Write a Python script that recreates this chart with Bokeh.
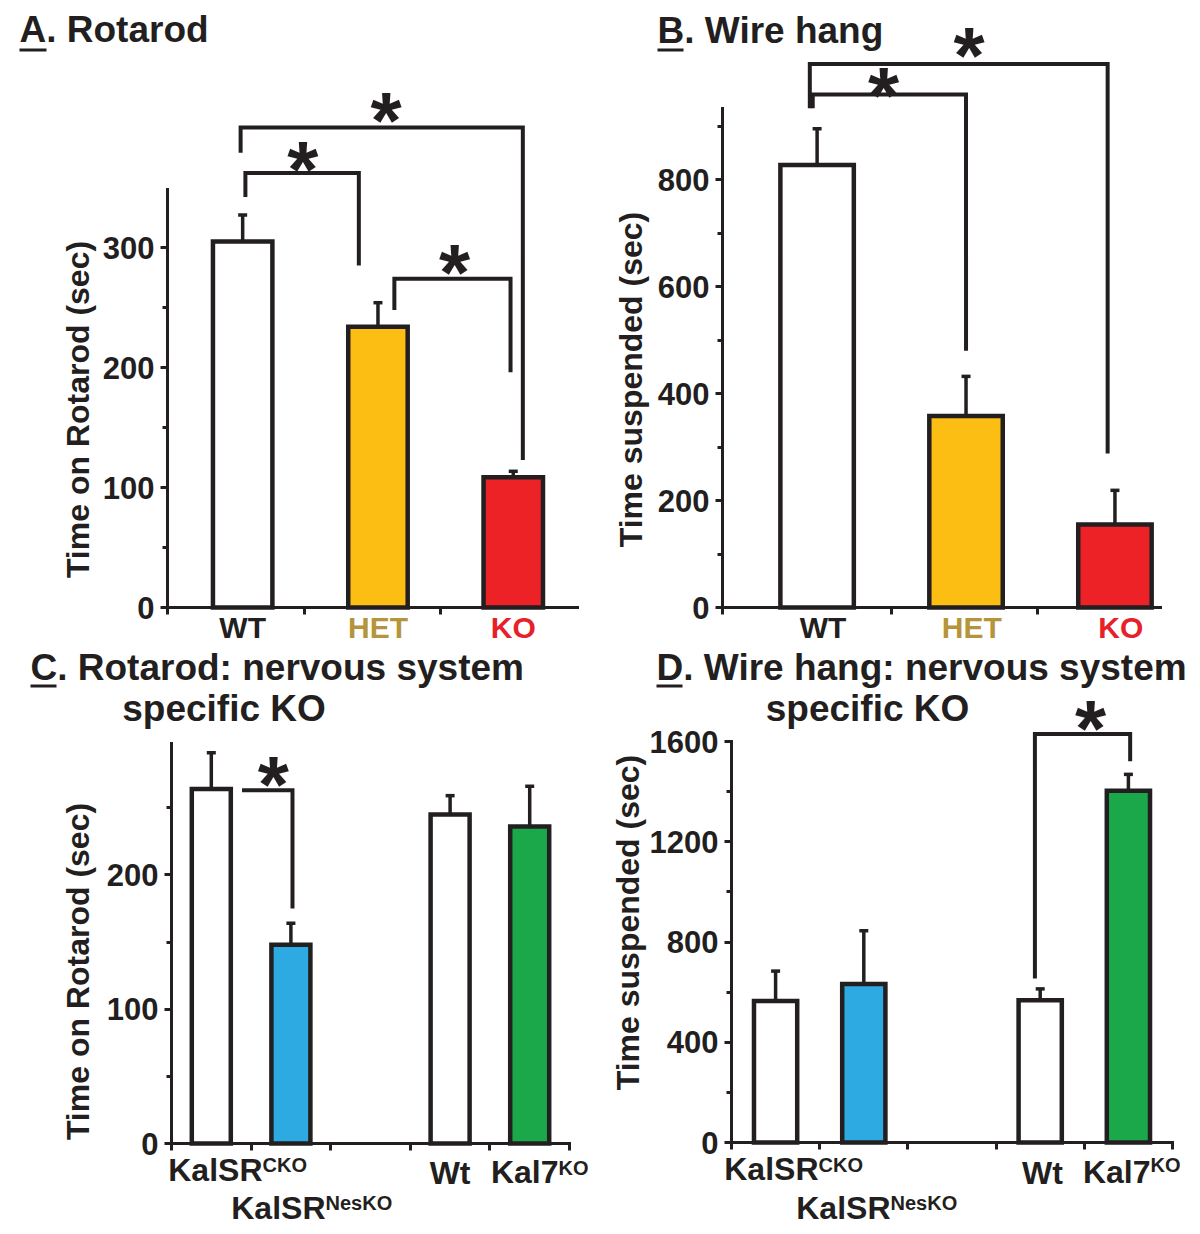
import math
from bokeh.plotting import figure
from bokeh.layouts import row, column
from bokeh.models import (ColumnDataSource, Whisker, TeeHead, Label, BoxAnnotation,
                          Range1d, FixedTicker, SingleIntervalTicker)
from bokeh.embed import file_html
from bokeh.resources import INLINE
from bokeh.core.properties import value

FONT = "Liberation Sans"
INK = "#231F20"

# ---------------- data ----------------
A_groups = ["WT", "HET", "KO"]
A_mean = [305, 234, 108.5]
A_sem = [22, 20, 5]

B_groups = ["WT", "HET", "KO"]
B_mean = [827, 358, 155]
B_sem = [68, 74, 64]

C_groups = ["KalSR CKO", "KalSR NesKO", "Wt", "Kal7 KO"]
C_mean = [264, 148, 245, 236]
C_sem = [27, 16, 14, 30]

D_groups = ["KalSR CKO", "KalSR NesKO", "Wt", "Kal7 KO"]
D_mean = [565, 632, 568, 1404]
D_sem = [119, 213, 45, 65]

# significance brackets (x path, y path) and star centres, data units
A_brackets = [([0.57, 0.57, 1.40, 1.40], [342, 362, 362, 285]),
              ([0.535, 0.535, 2.60, 2.60], [379, 400, 400, 123]),
              ([1.66, 1.66, 2.51, 2.51], [248, 274, 274, 196])]
A_stars = ([0.99, 1.60, 2.10], [375, 416, 289])
B_brackets = [([0.46, 0.46, 1.51, 1.51], [933, 959, 959, 480]),
              ([0.44, 0.44, 2.48, 2.48], [933, 1016, 1016, 288])]
B_stars = ([0.945, 1.53], [979, 1054])
C_brackets = [([0.886, 1.52, 1.52], [263, 263, 175])]
C_stars = ([1.28], [276])
D_brackets = [([3.44, 3.44, 4.52, 4.52], [654, 1630, 1630, 1521])]
D_stars = ([4.07], [1701])

# ---------------- styles ----------------
AB_fill = ["white", "#FDBE14", "#EC2227"]
AB_label_color = [INK, "#B5953B", "#E8202A"]
CD_fill = ["white", "#2DAAE1", "white", "#1AA84B"]
STAR_SIZE = 80
BASE_SHIFT = 0.38   # rendered baseline sits this many em below the anchor
ROW_SPLIT = 646     # page row where the lower panels begin


def make_panel(canvas, px0, x0, sx, py0, sy, xb, yb, interval, xticks):
    """canvas: (left, top, width, height) on the page; the frame fills the canvas
    and the axes sit at fixed data locations inside it."""
    cl, ct, W, H = canvas
    X = lambda px: x0 + (px - px0) / sx
    Y = lambda py: (py0 - py) / sy
    p = figure(width=W, height=H,
               x_range=Range1d(X(cl), X(cl + W)), y_range=Range1d(Y(ct + H), Y(ct)),
               output_backend="svg", toolbar_location=None,
               min_border_left=0, min_border_right=0,
               min_border_top=0, min_border_bottom=0)
    p.outline_line_color = None
    p.xgrid.visible = False
    p.ygrid.visible = False
    p.background_fill_color = "white"
    p.border_fill_color = "white"

    xa, ya = p.xaxis[0], p.yaxis[0]
    xa.fixed_location = 0
    ya.fixed_location = xb[0]
    xa.bounds = xb
    ya.bounds = yb
    ya.ticker = SingleIntervalTicker(interval=interval, num_minor_ticks=2)
    xa.ticker = FixedTicker(ticks=xticks)
    xa.major_label_text_color = None
    xa.minor_tick_line_color = None
    for ax in (xa, ya):
        ax.axis_line_width = 3
        ax.axis_line_color = INK
        ax.axis_line_cap = "square"
        ax.major_tick_line_width = 3
        ax.major_tick_line_color = INK
        ax.major_tick_in = 0
        ax.major_tick_out = 7
    ya.minor_tick_line_width = 3
    ya.minor_tick_line_color = INK
    ya.minor_tick_in = 0
    ya.minor_tick_out = 5
    ya.major_label_text_font = FONT
    ya.major_label_text_font_style = "bold"
    ya.major_label_text_font_size = "31px"
    ya.major_label_text_color = INK
    ya.major_label_standoff = 6
    return p, X, Y


def draw_bars(p, xs, means, sems, fills, width):
    src = ColumnDataSource(dict(x=xs, top=means,
                                upper=[m + s for m, s in zip(means, sems)],
                                fill=fills))
    p.add_layout(Whisker(source=src, base="x", lower="top", upper="upper",
                         dimension="height", line_color=INK, line_width=3.5,
                         upper_head=TeeHead(size=9, line_color=INK, line_width=3.5),
                         lower_head=None))
    p.vbar(x="x", top="top", bottom=0, width=width, fill_color="fill",
           line_color=INK, line_width=4.5, line_join="miter", source=src)


def draw_sig(p, brackets, stars, sy):
    p.multi_line(xs=[b[0] for b in brackets], ys=[b[1] for b in brackets],
                 line_color=INK, line_width=4, line_join="miter")
    drop = 0.15 * STAR_SIZE / sy
    p.text(x=stars[0], y=[v - drop for v in stars[1]], text=["*"] * len(stars[0]),
           text_font=value(FONT), text_font_style="bold",
           text_font_size=f"{STAR_SIZE}px", text_color=INK,
           text_align="center", text_baseline="alphabetic")


def lab(p, x, y, text, size, color=INK, align="left", angle=0.0, baseline="alphabetic"):
    p.add_layout(Label(x=x, y=y, text=text, text_font=FONT, text_font_style="bold",
                       text_font_size=f"{size}px", text_color=color,
                       text_align=align, text_baseline=baseline, angle=angle))


def hlab(p, X, Y, px, baseline_py, text, size, color=INK, align="left", data_x=None):
    """horizontal label whose glyph baseline lands on page row baseline_py"""
    x = data_x if data_x is not None else X(px)
    lab(p, x, Y(baseline_py - BASE_SHIFT * size), text, size, color=color, align=align)


def underline(p, X, Y, x0, x1, y0, y1):
    p.add_layout(BoxAnnotation(left=X(x0), right=X(x1), top=Y(y0), bottom=Y(y1),
                               fill_color=INK, fill_alpha=1.0, line_color=None,
                               level="overlay"))


# ---------------- Panel A ----------------
pA, XA, YA = make_panel((0, 0, 600, ROW_SPLIT), 167, 0, 410 / 3, 607, 1.2,
                        (0, 3), (0, 348), 100, [0, 1, 2])
xa = [0.55 + 0.99 * i for i in range(len(A_groups))]
draw_bars(pA, xa, A_mean, A_sem, AB_fill, 0.435)
draw_sig(pA, A_brackets, A_stars, 1.2)
hlab(pA, XA, YA, 19, 43, "A. Rotarod", 37)
underline(pA, XA, YA, 19, 46, 48, 51)
lab(pA, XA(77.5), YA(409), "Time on Rotarod (sec)", 32, align="center",
    angle=math.pi / 2, baseline="middle")
for x, g, c in zip(xa, A_groups, AB_label_color):
    hlab(pA, XA, YA, None, 638, g, 30, color=c, align="center", data_x=x)

# ---------------- Panel B ----------------
pB, XB, YB = make_panel((600, 0, 600, ROW_SPLIT), 722, -0.158, 146, 607, 0.535,
                        (-0.158, 2.842), (0, 933), 200, [-0.158, 1, 2])
xb = [0.49 + 1.02 * i for i in range(len(B_groups))]
draw_bars(pB, xb, B_mean, B_sem, AB_fill, 0.503)
draw_sig(pB, B_brackets, B_stars, 0.535)
hlab(pB, XB, YB, 657, 44, "B. Wire hang", 37)
underline(pB, XB, YB, 657, 683, 48, 51)
lab(pB, XB(630), YB(379), "Time suspended (sec)", 32, align="center",
    angle=math.pi / 2, baseline="middle")
for x, g, c in zip(xb, B_groups, AB_label_color):
    hlab(pB, XB, YB, None, 638, g, 30, color=c, align="center", data_x=x + 0.04)

# ---------------- Panel C ----------------
slots = [0, 1, 3, 4]
LOW_H = 1234 - ROW_SPLIT
pC, XC, YC = make_panel((0, ROW_SPLIT, 600, LOW_H), 171, 0, 79.6, 1143, 1.343,
                        (0, 5), (0, 298), 100, [0, 1, 2, 3, 4, 5])
xc = [s + 0.5 for s in slots]
draw_bars(pC, xc, C_mean, C_sem, CD_fill, 0.49)
draw_sig(pC, C_brackets, C_stars, 1.343)
hlab(pC, XC, YC, 30, 681, "C. Rotarod: nervous system", 37)
hlab(pC, XC, YC, 223.5, 722, "specific KO", 37, align="center")
underline(pC, XC, YC, 30, 56, 684, 687)
lab(pC, XC(77.5), YC(971), "Time on Rotarod (sec)", 32, align="center",
    angle=math.pi / 2, baseline="middle")
hlab(pC, XC, YC, 262, 1182, "KalSR", 32, align="right")
hlab(pC, XC, YC, 262, 1172, "CKO", 20)
hlab(pC, XC, YC, 325, 1220, "KalSR", 32, align="right")
hlab(pC, XC, YC, 325, 1210, "NesKO", 20)
hlab(pC, XC, YC, None, 1185, "Wt", 32, align="center", data_x=xc[2])
hlab(pC, XC, YC, 558, 1184, "Kal7", 32, align="right")
hlab(pC, XC, YC, 558, 1175, "KO", 20)

# ---------------- Panel D ----------------
pD, XD, YD = make_panel((600, ROW_SPLIT, 600, LOW_H), 731, 0, 88.2, 1142, 0.2506,
                        (0, 5), (0, 1600), 400, [0, 1, 2, 3, 4, 5])
xd = [s + 0.5 for s in slots]
draw_bars(pD, xd, D_mean, D_sem, CD_fill, 0.49)
draw_sig(pD, D_brackets, D_stars, 0.2506)
hlab(pD, XD, YD, 656, 681, "D. Wire hang: nervous system", 37)
hlab(pD, XD, YD, 867, 722, "specific KO", 37, align="center")
underline(pD, XD, YD, 656, 682, 684, 687)
lab(pD, XD(627.5), YD(922), "Time suspended (sec)", 32, align="center",
    angle=math.pi / 2, baseline="middle")
hlab(pD, XD, YD, 818, 1181, "KalSR", 32, align="right")
hlab(pD, XD, YD, 818, 1172, "CKO", 20)
hlab(pD, XD, YD, 890, 1220, "KalSR", 32, align="right")
hlab(pD, XD, YD, 890, 1210, "NesKO", 20)
hlab(pD, XD, YD, 1042, 1185, "Wt", 32, align="center")
hlab(pD, XD, YD, 1150, 1184, "Kal7", 32, align="right")
hlab(pD, XD, YD, 1150, 1172, "KO", 20)

layout = column(row(pA, pB), row(pC, pD))
open("out.html", "w").write(file_html(layout, INLINE))
